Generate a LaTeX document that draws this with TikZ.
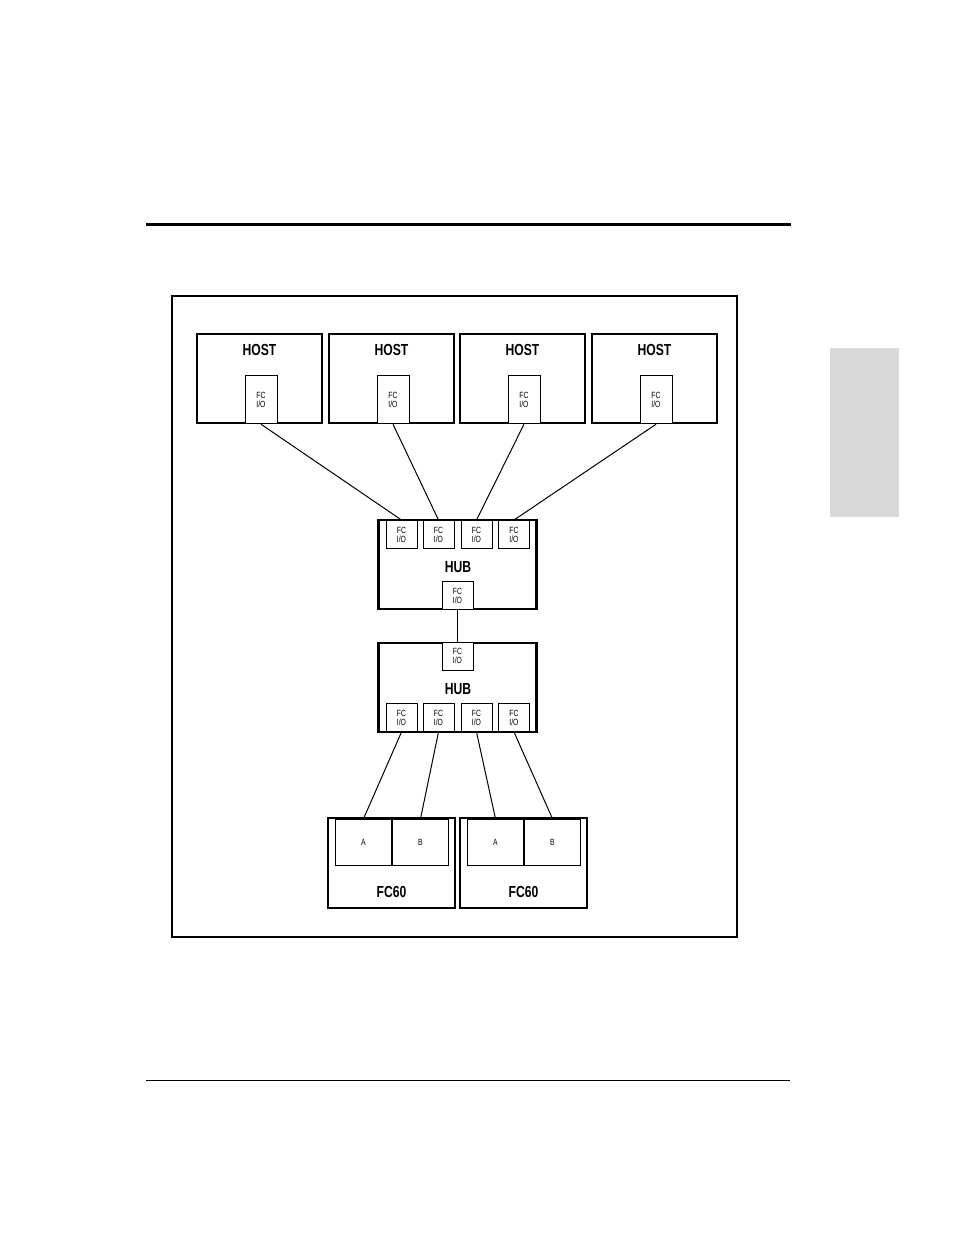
\documentclass[tikz,border=0pt]{standalone}
\usepackage{xcolor}
\usepackage{fontspec}
\setmainfont{Liberation Sans}
\newfontfamily\narrowfont[FakeStretch=0.76]{Liberation Sans}
\usetikzlibrary{positioning}
\definecolor{tabgray}{RGB}{217,217,217}
\tikzset{
    unit/.style={draw,line width=2.5pt,inner sep=0pt},
    port/.style={draw,fill=white,line width=1pt,inner sep=0pt,align=center,%
    font=\narrowfont\fontsize{9}{9}\selectfont},
    hubport/.style={port,minimum width=31pt,minimum height=28pt},
    drive/.style={draw,line width=1pt,inner sep=0pt,minimum width=56pt,minimum height=46pt,%
    font=\narrowfont\fontsize{9}{9}\selectfont},
    title/.style={inner sep=0pt,font=\narrowfont\bfseries\fontsize{16}{16}\selectfont},
    link/.style={line width=1pt},
}
\begin{document}
\begin{tikzpicture}[x=1pt,y=-1pt]
                    \useasboundingbox (0,0) rectangle (954,1235);
                    \draw[line width=3pt] (146,224) -- (791,224);
                    \draw[line width=1pt] (146,1080) -- (790,1080);
                    \fill[tabgray] (830,348) rectangle (899,517);
                    \draw[line width=2pt] (172,296) rectangle (737,937);
                    % hosts
                    \foreach \i/\x in {1/259.5,2/391.5,3/522.5,4/654.5}{
                        \node (h\i) [unit,minimum width=125pt,minimum height=89pt] at (\x,378.5) {};
                        \node (hl\i) [title,below=11pt of h\i.north] {HOST};
                        \node (hp\i) [port,anchor=south,minimum width=32pt,minimum height=48pt,xshift=1.5pt] at (h\i.south) {FC\\I/O};
                    }
                    % hubs
                    \node (hub1) [unit,minimum width=158pt,minimum height=89pt] at (457.5,564.5) {};
                    \node (hub2) [unit,minimum width=158pt,minimum height=89pt] at (457.5,687.5) {};
                    \node (hubl1) [title] at (458,567) {HUB};
                    \node (hubl2) [title] at (458,689) {HUB};
                    \foreach \i/\x in {1/401.5,2/438.5,3/476.5,4/514}{
                        \node (tp\i) [hubport,anchor=north] at (\x,520) {FC\\I/O};
                        \node (bp\i) [hubport,anchor=south] at (\x,732) {FC\\I/O};
                    }
                    \node (up) [hubport,anchor=south] at (hub1.south) {FC\\I/O};
                    \node (down) [hubport,anchor=north] at (hub2.north) {FC\\I/O};
                    % disk arrays
                    \foreach \i/\x in {1/391.5,2/523.5}{
                        \node (fc\i) [unit,minimum width=127pt,minimum height=90pt] at (\x,863) {};
                        \node (fcl\i) [title] at (\x,892) {FC60};
                        \node (a\i) [drive,anchor=north east] at ([xshift=0.5pt,yshift=-2pt]fc\i.north) {A};
                        \node (b\i) [drive,right=0pt of a\i] {B};
                    }
                    \foreach \i in {1,...,4}{
                        \draw[link] (hp\i.south) -- (tp\i.north);
                    }
                    \draw[link] (up.south) -- (down.north);
                    \draw[link] (bp1.south) -- (a1.north);
                    \draw[link] (bp2.south) -- (b1.north);
                    \draw[link] (bp3.south) -- (a2.north);
                    \draw[link] (bp4.south) -- (b2.north);
                \end{tikzpicture}
\end{document}
